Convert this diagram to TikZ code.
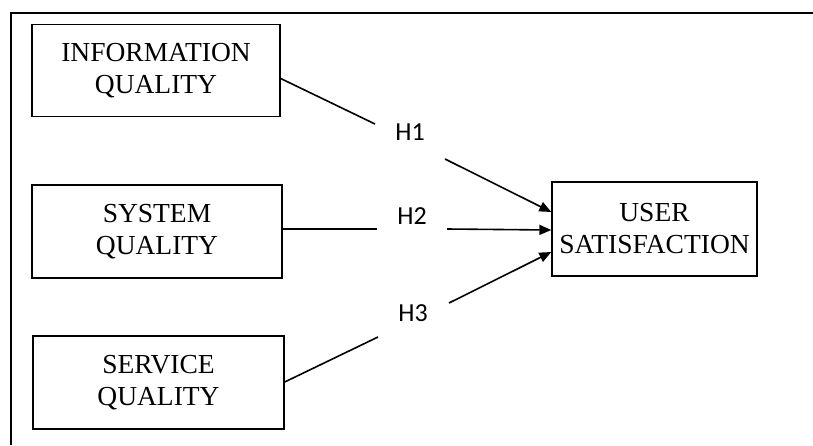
\documentclass[tikz,border=0pt]{standalone}
\usepackage{fontspec}
\setmainfont{Liberation Serif}
\newfontfamily\labelfont{Carlito}
\usetikzlibrary{arrows.meta}
\begin{document}
\begin{tikzpicture}[x=1pt,y=-1pt,
  conbox/.style={draw,line width=1.4pt,minimum width=#1,minimum height=93pt,inner sep=0pt,
    align=center,font=\fontsize{27.5}{32}\selectfont},
  hlabel/.style={font=\labelfont\fontsize{26}{30}\selectfont,inner sep=0pt},
  link/.style={line width=1.6pt},
  arr/.style={line width=1.6pt,-{Triangle[length=12pt,width=10pt]}}]
\useasboundingbox (0,0) rectangle (813,445);
\draw[line width=1.6pt] (813,13) -- (11,13) -- (11,445);
\node[conbox=248pt,minimum height=92pt] (info) at (156,70.5) {INFORMATION\\QUALITY};
\node[conbox=250pt] (sys) at (157,231.5) {SYSTEM\\QUALITY};
\node[conbox=251pt] (serv) at (158.5,382.5) {SERVICE\\QUALITY};
\node[conbox=205pt,minimum height=94pt] (user) at (654.5,229) {USER\\SATISFACTION};
\node[hlabel] (h1) at (410,132) {H1};
\node[hlabel] (h2) at (412,216) {H2};
\node[hlabel] (h3) at (413,313) {H3};
% gap coordinates
\coordinate (a1s) at ([yshift=-8pt]info.east);
\coordinate (a1e) at (375,124);
\coordinate (b1s) at (445,159);
\coordinate (a2s) at ([yshift=2.5pt]sys.east);
\coordinate (a2e) at (377,229);
\coordinate (b2s) at (447,229);
\coordinate (a3s) at ([yshift=0.5pt]serv.east);
\coordinate (a3e) at (378,337);
\coordinate (b3s) at (449,303);
\draw[link] (a1s) -- (a1e);
\draw[arr] (b1s) -- ([yshift=17pt]user.west);
\draw[link] (a2s) -- (a2e);
\draw[arr] (b2s) -- ([yshift=-1pt]user.west);
\draw[link] (a3s) -- (a3e);
\draw[arr] (b3s) -- ([yshift=-23pt]user.west);
\end{tikzpicture}
\end{document}
